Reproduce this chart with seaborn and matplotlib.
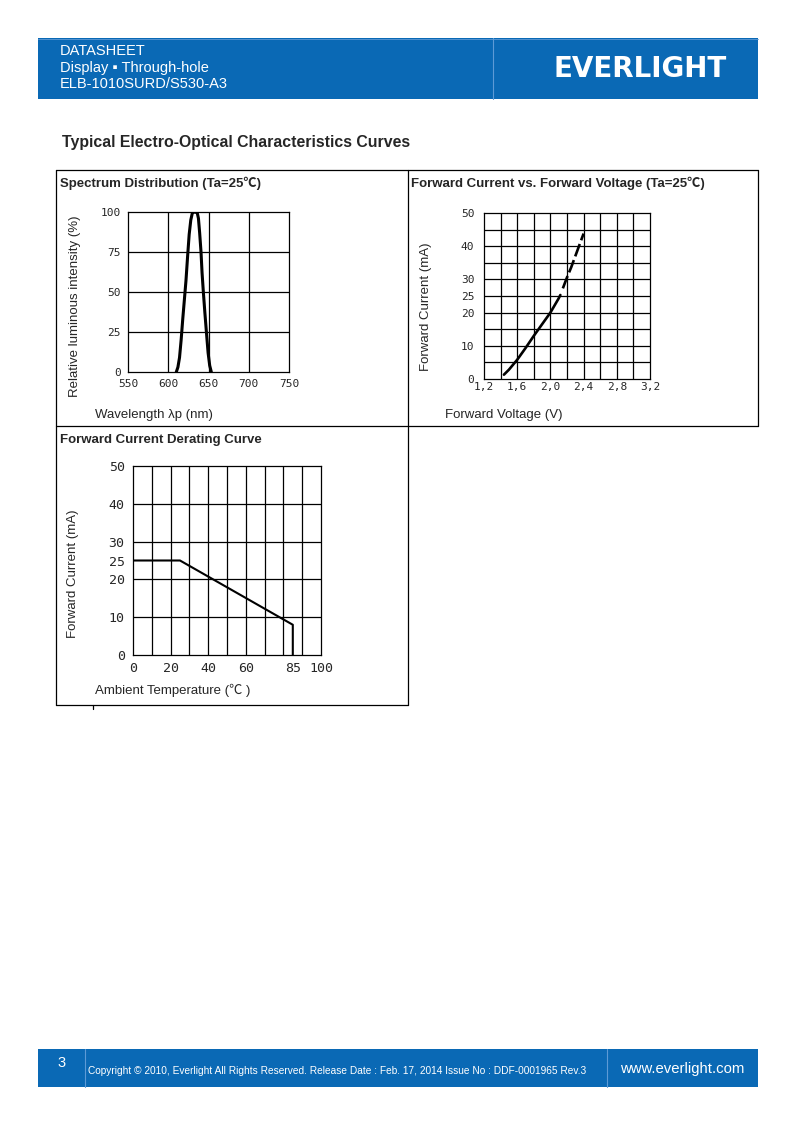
import matplotlib
matplotlib.use("Agg")
import matplotlib.pyplot as plt
import seaborn as sns
from matplotlib.patches import Rectangle

# Data
spec_wl = [610, 612, 614, 616, 618, 620, 622, 624, 626, 628, 630, 633, 636,
           637.5, 639, 640.7, 642, 643.6, 645.5, 647.4, 649.5, 651.5, 653.5]
spec_rel = [0, 3, 9, 20, 33, 45, 57, 72, 86, 95, 99.5, 100, 99.5,
            96, 87, 75, 62, 50, 37, 25, 12, 4, 0]

iv_volt = [1.44, 1.5, 1.6, 1.7, 1.8, 1.9, 2.0, 2.1, 2.12]
iv_curr = [1.3, 2.8, 5.8, 9.3, 13.0, 16.5, 20.0, 24.3, 25.3]
iv_volt_ext = [2.15, 2.2, 2.25, 2.3, 2.35, 2.4]
iv_curr_ext = [27.3, 30.6, 33.6, 37.0, 40.4, 43.8]

der_temp = [0, 25, 85, 85]
der_curr = [25, 25, 8, 0]

spec_xticks = [550, 600, 650, 700, 750]
spec_yticks = [0, 25, 50, 75, 100]
iv_xticks = [1.2, 1.6, 2.0, 2.4, 2.8, 3.2]
iv_xlabels = ["1,2", "1,6", "2,0", "2,4", "2,8", "3,2"]
iv_yticks = [0, 10, 20, 25, 30, 40, 50]
der_xticks = [0, 20, 40, 60, 85, 100]
der_yticks = [0, 10, 20, 25, 30, 40, 50]

W, H = 793, 1123
BLUE = "#0a69b5"
CJK = ['Liberation Sans', 'Noto Sans CJK SC', 'DejaVu Sans']

sns.set_style("white")
plt.rcParams['font.family'] = ['Liberation Sans', 'DejaVu Sans']

fig = plt.figure(figsize=(W / 100, H / 100), dpi=100)

# full-page overlay in pixel coordinates
page = fig.add_axes([0, 0, 1, 1])
page.set_xlim(0, W)
page.set_ylim(H, 0)
page.axis("off")

# header band
page.add_patch(Rectangle((38, 38), 720, 61, color=BLUE, lw=0))
page.plot([493, 493], [38, 99], color="#5d9ad6", lw=0.8)
page.plot([38, 758], [38.5, 38.5], color="#5d9ad6", lw=0.6)
page.text(60, 51, "DATASHEET", color="white", fontsize=10.5, va="center")
page.text(60, 68, "Display \u25aa Through-hole", color="white", fontsize=10.5,
          va="center")
page.text(60, 84, "ELB-1010SURD/S530-A3", color="white", fontsize=10.5, va="center")
page.text(640, 69, "EVERLIGHT", color="white", fontsize=20, fontweight="heavy",
          ha="center", va="center", family="DejaVu Sans")

# section title
page.text(62, 142, "Typical Electro-Optical Characteristics Curves",
          fontsize=11.4, fontweight="bold", va="center")

# table frame
lk = dict(color="black", lw=0.9)
page.plot([56, 758], [170, 170], **lk)
page.plot([56, 56], [170, 705], **lk)
page.plot([408, 408], [170, 705], **lk)
page.plot([758, 758], [170, 426], **lk)
page.plot([56, 758], [426, 426], **lk)
page.plot([56, 408], [705, 705], **lk)
page.plot([93, 93], [705, 709], **lk)

page.text(60, 183, "Spectrum Distribution (Ta=25\u2103)", fontsize=9.5,
          fontweight="bold", va="center", family=CJK)
page.text(411, 183, "Forward Current vs. Forward Voltage (Ta=25\u2103)", fontsize=9.5,
          fontweight="bold", va="center", family=CJK)
page.text(60, 440, "Forward Current Derating Curve", fontsize=9.5,
          fontweight="bold", va="center")

page.text(95, 415, "Wavelength \u03bbp (nm)", fontsize=9.5, va="center")
page.text(445, 415, "Forward Voltage (V)", fontsize=9.5, va="center")
page.text(95, 690, "Ambient Temperature (\u2103 )", fontsize=9.5, va="center",
          family=CJK)

page.text(75, 306, "Relative luminous intensity (%)", fontsize=9.5,
          rotation=90, ha="center", va="center")
page.text(426, 307, "Forward Current (mA)", fontsize=9.5,
          rotation=90, ha="center", va="center")
page.text(73, 574, "Forward Current (mA)", fontsize=9.5,
          rotation=90, ha="center", va="center")

# footer band
page.add_patch(Rectangle((38, 1049), 720, 38, color=BLUE, lw=0))
page.plot([85, 85], [1049, 1087], color="#5d9ad6", lw=0.8)
page.plot([607, 607], [1049, 1087], color="#5d9ad6", lw=0.8)
page.text(62, 1063, "3", color="white", fontsize=10.5, ha="center", va="center")
page.text(88, 1071, "Copyright \u00a9 2010, Everlight All Rights Reserved. Release Date : "
          "Feb. 17, 2014 Issue No : DDF-0001965 Rev.3",
          color="white", fontsize=7.3, va="center")
page.text(682.5, 1069, "www.everlight.com", color="white", fontsize=10.7,
          ha="center", va="center")


def px_axes(x0, y0, x1, y1):
    return fig.add_axes([x0 / W, 1 - y1 / H, (x1 - x0) / W, (y1 - y0) / H])


def style(ax, xgrid, ygrid, size):
    for v in xgrid:
        ax.axvline(v, color="black", lw=0.9, zorder=1)
    for v in ygrid:
        ax.axhline(v, color="black", lw=0.9, zorder=1)
    for s in ax.spines.values():
        s.set_color("black")
        s.set_linewidth(0.9)
    ax.tick_params(length=0, labelsize=size)
    ax.set_xlabel("")
    ax.set_ylabel("")
    for lab in ax.get_xticklabels() + ax.get_yticklabels():
        lab.set_family("DejaVu Sans Mono")


# spectrum
ax1 = px_axes(128, 212, 289, 372)
sns.lineplot(x=spec_wl, y=spec_rel, ax=ax1, color="black", lw=2.2, sort=False,
             estimator=None, zorder=3)
ax1.set_xlim(550, 750)
ax1.set_ylim(0, 100)
ax1.set_xticks(spec_xticks)
ax1.set_yticks(spec_yticks)
style(ax1, [600, 650, 700], [25, 50, 75], 8)
ax1.tick_params(axis="x", pad=5)
ax1.tick_params(axis="y", pad=5)

# forward voltage
ax2 = px_axes(484, 213, 650, 379)
sns.lineplot(x=iv_volt, y=iv_curr, ax=ax2, color="black", lw=1.9, sort=False,
             estimator=None, zorder=3)
sns.lineplot(x=iv_volt_ext, y=iv_curr_ext, ax=ax2, color="black", lw=1.9,
             sort=False, estimator=None, zorder=3, linestyle=(0, (5, 1.5)))
ax2.set_xlim(1.2, 3.2)
ax2.set_ylim(0, 50)
ax2.set_xticks(iv_xticks)
ax2.set_xticklabels(iv_xlabels)
ax2.set_yticks(iv_yticks)
style(ax2, [1.4 + 0.2 * i for i in range(9)], [5 * i for i in range(1, 10)], 8)
ax2.tick_params(axis="x", pad=2)
ax2.tick_params(axis="y", pad=7)

# derating
ax3 = px_axes(133, 466, 321, 655)
sns.lineplot(x=der_temp, y=der_curr, ax=ax3, color="black", lw=1.5, sort=False,
             estimator=None, zorder=3)
ax3.set_xlim(0, 100)
ax3.set_ylim(0, 50)
ax3.set_xticks(der_xticks)
ax3.set_yticks(der_yticks)
style(ax3, [10 * i for i in range(1, 10)], [10, 20, 30, 40], 9.5)
ax3.tick_params(axis="x", pad=5)
ax3.tick_params(axis="y", pad=6)

fig.savefig("out.png", dpi=100)
